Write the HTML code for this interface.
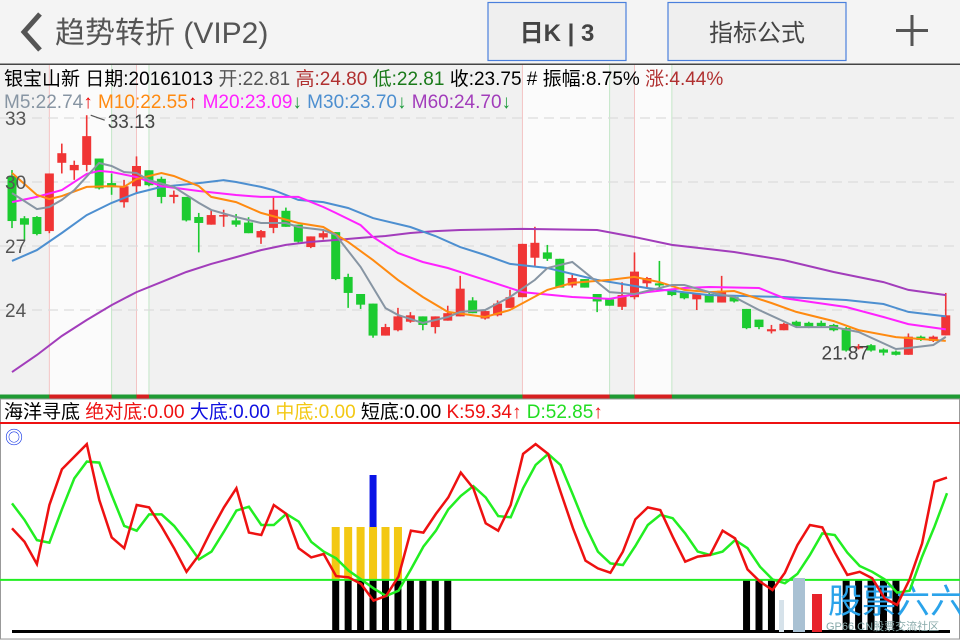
<!DOCTYPE html>
<html><head><meta charset="utf-8">
<style>
html,body{margin:0;padding:0;background:#f4f4f4;}
svg{display:block;font-family:"Liberation Sans","Noto Sans CJK SC",sans-serif;}
</style></head>
<body>
<svg id="c" width="960" height="640" viewBox="0 0 960 640" xmlns="http://www.w3.org/2000/svg">
<rect x="0" y="0" width="960" height="640" fill="#f4f4f4"/>
<g>
<polyline points="40,14 24,32 40,50" fill="none" stroke="#555" stroke-width="5"/>
<text x="55" y="43" font-size="30" fill="#555">趋势转折 (VIP2)</text>
<rect x="488" y="2.5" width="138" height="58" fill="#efefef" stroke="#4a7fdc" stroke-width="1.2"/>
<text x="557" y="41" font-size="24" fill="#444" font-weight="bold" text-anchor="middle">日K | 3</text>
<rect x="668" y="2.5" width="178" height="58" fill="#efefef" stroke="#4a7fdc" stroke-width="1.2"/>
<text x="757" y="41" font-size="24" fill="#444" text-anchor="middle">指标公式</text>
<g><rect x="896" y="29" width="32" height="3" fill="#555"/><rect x="910.5" y="15" width="3" height="31" fill="#555"/></g>
<rect x="0" y="63.5" width="960" height="1.5" fill="#444"/>
</g>
<g id="main"></g>
<g id="sub"></g>
</svg>
<script>
// ===== price panel data =====
const candleOpen =[30.28,28.3,28.36,27.7,30.9,30.55,30.8,31.1,29.95,29.05,29.8,30.55,30.15,29.3,29.3,28.36,28.0,28.4,28.2,28.1,27.4,27.85,28.65,28.0,26.95,27.4,27.65,25.55,24.75,24.3,22.8,23.05,23.45,23.7,23.2,23.5,23.7,24.45,23.6,23.75,24.1,24.6,26.45,26.7,26.4,25.15,25.45,24.75,24.5,24.15,24.6,25.25,25.25,24.95,24.8,24.5,24.75,24.35,24.6,24.05,23.55,23.0,23.05,23.45,23.4,23.4,23.3,23.15,22.2,22.35,22.15,22.05,21.9,22.75,22.55,22.81];
const candleHigh =[30.56,28.4,28.4,30.4,31.8,31.0,33.13,31.1,30.4,30.1,31.2,30.55,30.25,29.6,29.3,28.55,28.7,28.7,28.5,28.35,27.75,29.3,28.8,28.0,27.45,27.75,27.65,25.7,24.75,24.3,23.35,24.1,23.9,23.7,23.7,24.2,25.6,24.6,24.0,24.45,24.95,27.1,27.9,27.05,26.4,25.65,25.45,24.75,24.5,25.3,26.7,25.55,26.3,25.0,24.85,24.75,24.8,25.6,24.65,24.05,23.55,23.3,23.4,23.5,23.45,23.5,23.35,23.2,22.4,22.4,22.2,22.1,22.9,22.8,22.8,24.80];
const candleLow  =[27.84,27.3,27.5,27.6,30.4,30.1,30.5,29.65,29.4,28.8,29.5,29.8,29.0,29.0,28.15,26.7,28.0,27.9,27.9,27.6,27.1,27.6,27.9,27.15,26.9,27.3,25.4,24.1,24.05,22.7,22.8,23.0,23.4,23.05,22.9,23.5,23.7,23.85,23.55,23.7,24.1,24.6,26.0,26.3,25.05,25.05,25.05,23.9,24.2,24.0,24.5,25.05,25.05,24.65,24.5,24.0,24.35,24.35,24.35,23.1,23.1,22.9,23.05,23.2,23.15,23.2,23.0,22.05,22.15,22.05,21.87,21.87,21.9,22.55,22.5,22.81];
const candleClose=[28.17,28.0,27.56,30.4,31.35,30.8,32.15,29.7,29.75,29.8,30.75,29.85,29.3,29.4,28.2,28.08,28.45,28.45,28.0,27.6,27.7,28.7,27.9,27.2,27.45,27.6,25.45,24.8,24.25,22.8,23.2,23.7,23.75,23.3,23.7,23.85,25.0,23.85,23.95,24.3,24.6,27.1,27.15,26.4,25.05,25.5,25.05,24.4,24.2,24.7,25.8,25.5,25.15,24.7,24.55,24.75,24.35,24.9,24.4,23.15,23.2,23.1,23.35,23.25,23.2,23.25,23.05,22.1,22.3,22.1,22.0,21.9,22.75,22.6,22.75,23.75];
// moving averages: [candle index, value]
const ma5  =[[0,29.48],[2,28.73],[3,28.83],[4,29.16],[5,29.62],[7,30.89],[8,30.75],[9,30.47],[10,30.42],[11,30.09],[13,29.77],[15,29.02],[16,28.69],[18,28.36],[20,28.08],[22,28.08],[23,27.89],[25,27.75],[26,27.52],[28,26.02],[30,24.09],[31,23.77],[33,23.39],[35,23.67],[36,23.91],[38,24.0],[40,24.61],[42,25.41],[43,25.97],[45,26.25],[48,24.84],[50,24.75],[53,25.17],[54,25.17],[56,24.84],[58,24.61],[60,24.0],[63,23.2],[66,23.2],[68,22.97],[71,22.17],[72,22.22],[74,22.36],[75,22.74]];
const ma10 =[[0,30.42],[2,29.39],[3,29.2],[4,29.34],[6,29.77],[8,29.81],[9,29.77],[10,30.14],[12,30.42],[13,30.28],[15,29.81],[16,29.3],[18,29.06],[20,28.55],[23,28.08],[25,27.89],[27,27.19],[29,26.34],[31,25.41],[33,24.61],[35,23.91],[38,23.67],[40,24.0],[43,24.94],[45,25.27],[48,25.41],[50,25.55],[52,25.31],[54,24.94],[56,24.84],[58,24.89],[61,24.33],[63,23.91],[66,23.48],[68,23.06],[71,22.73],[75,22.55]];
const ma20 =[[0,29.06],[2,29.3],[4,29.62],[6,30.38],[7,30.52],[8,30.47],[10,30.23],[12,29.81],[15,29.58],[18,29.39],[20,29.3],[23,29.3],[25,28.83],[26,28.55],[28,27.98],[29,27.42],[31,26.67],[33,26.25],[35,25.97],[38,25.41],[41,24.84],[45,24.61],[48,24.52],[51,24.84],[54,25.03],[56,25.08],[60,25.03],[62,24.56],[67,24.14],[70,23.67],[72,23.34],[75,23.09]];
const ma30 =[[0,26.3],[2,26.81],[4,27.61],[6,28.45],[8,29.02],[10,29.48],[12,29.77],[15,29.95],[17,30.09],[18,30.0],[20,29.77],[21,29.62],[23,29.16],[25,29.06],[27,28.78],[29,28.31],[32,27.89],[34,27.47],[36,26.95],[38,26.58],[40,26.16],[43,25.97],[47,25.41],[51,25.03],[56,24.7],[62,24.61],[67,24.47],[70,24.28],[72,23.91],[75,23.7]];
const ma60 =[[0,21.09],[2,21.89],[4,22.78],[6,23.53],[8,24.23],[10,24.84],[12,25.31],[14,25.78],[16,26.16],[18,26.48],[20,26.81],[22,27.05],[24,27.19],[26,27.28],[28,27.38],[30,27.47],[32,27.61],[34,27.7],[36,27.75],[41,27.8],[47,27.75],[50,27.42],[53,27.05],[58,26.72],[62,26.34],[66,25.78],[70,25.31],[72,24.94],[75,24.7]];
const priceTicks=[33,30,27,24];
const signalZones=[[3,8],[10,11],[41,48],[50,53]];
// ===== indicator panel data =====
const kValues=[38.2,32.6,23.3,47.9,62.8,68,73.3,50,34.4,29.9,47.9,46.9,38.9,29.9,20.1,27.1,37.5,46.9,54.9,36.4,35.4,47.9,44.2,29.9,26.1,27.5,18.3,17.8,15,8.1,10,18.1,37.2,36.4,44.2,51.1,61.4,54.9,40.3,37.2,47.9,69.2,73.3,69.2,53.5,38.2,24.7,21.5,19.7,28.5,41.9,46.9,45.8,34.7,24.3,26.4,27.1,37.2,34,21.1,16,12.5,19.7,31.2,39.6,38.6,28.1,18.8,20.1,17.4,9,6.3,16.9,31.9,57.6,59.34];
const dValues=[48.6,41.7,33.3,32.2,46.1,59,66,65.6,52.1,39.2,37.2,44,44,39.2,32.6,25.3,28.5,36.8,45.6,47.2,39.6,39.6,44.2,41,32.6,28.5,25.7,20.6,16.9,13.2,10,12.2,21.1,30.6,37.2,46.1,51.7,55.8,51.1,43.3,42.8,54.9,64.6,69.2,64.6,52.1,39.2,28.5,23.6,22.9,30.8,39.6,43.8,42.4,36.1,28.5,27.1,28.5,33.3,29.9,22.2,16.9,15.3,19.2,27.1,36.1,35.4,28.1,22.5,20.1,16.9,11.4,12.2,26.4,38.9,52.85];
const shortBottomIdx=[26,27,28,29,30,31,32,33,34,35,59,60,61,67,68,69,70,71];
const midBottomIdx=[26,27,28,29,30,31];
const bigBottomIdx=[29];
const refLevel=16.7;

const NS='http://www.w3.org/2000/svg';
function mk(tag,attrs,parent){const e=document.createElementNS(NS,tag);for(const k in attrs)e.setAttribute(k,attrs[k]);parent.appendChild(e);return e;}
const main=document.getElementById('main'), sub=document.getElementById('sub');
const X0=12, STEP=12.45;
const xAt=i=>X0+i*STEP;
const yP=p=>118+(33-p)*21.333;
const yK=v=>620-v*2.4;

let bg=mk('rect',{x:0,y:65,width:960,height:330,fill:'#f1f1f1'},main);


signalZones.forEach(z=>{
  const x1=xAt(z[0]), x2=xAt(z[1]);
  const r=mk('rect',{x:x1,y:65,width:x2-x1,height:330,fill:'#fbfbfb'},main);
  
  
  const l1=mk('line',{x1:x1,x2:x1,y1:65,y2:395,stroke:'#f3c4c4','stroke-width':1},main);
  
  
  const l2=mk('line',{x1:x2,x2:x2,y1:65,y2:395,stroke:'#c4e6c8','stroke-width':1},main);
  
  
});
priceTicks.forEach(t=>{
  const g=mk('line',{x1:0,x2:960,y1:yP(t),y2:yP(t),stroke:'#dcdcdc','stroke-width':1.3,'stroke-dasharray':'10,6'},main);
  
  
});
let sb=mk('rect',{x:0,y:394.5,width:960,height:4,fill:'#1f9a33'},main);


signalZones.forEach(z=>{
  const x1=xAt(z[0]), x2=xAt(z[1]);
  const r=mk('rect',{x:x1,y:394.5,width:x2-x1,height:4,fill:'#d62020'},main);
  
  
});
for(let i=0;i<candleOpen.length;i++){
  const o=candleOpen[i],c=candleClose[i],h=candleHigh[i],l=candleLow[i];
  const up=c>=o, col=up?'#f03535':'#1ccb30', x=xAt(i);
  const g=mk('g',{},main);
  
  
  mk('line',{x1:x,x2:x,y1:yP(h),y2:yP(l),stroke:col,'stroke-width':1.6},g);
  const t=yP(Math.max(o,c)), b=yP(Math.min(o,c));
  mk('rect',{x:x-4.5,y:t,width:9,height:Math.max(1.5,b-t),fill:col},g);
}
[[ma60,'#a23dbb','ma60-line'],[ma30,'#4d8fd0','ma30-line'],[ma20,'#ff22ff','ma20-line'],[ma10,'#ff8a10','ma10-line'],[ma5,'#8795a3','ma5-line']].forEach(([d,col,name])=>{
  const p=mk('polyline',{points:d.map(q=>xAt(q[0]).toFixed(1)+','+yP(q[1]).toFixed(1)).join(' '),fill:'none',stroke:col,'stroke-width':2},main);
  
  
});
priceTicks.forEach(t=>{
  const tx=mk('text',{x:5,y:yP(t)+7,'font-size':19,fill:'#555'},main);
  tx.textContent=String(t);
  
  
});
let hi=candleHigh.indexOf(Math.max(...candleHigh));
let ln=mk('line',{x1:xAt(hi)+4,y1:yP(candleHigh[hi]),x2:xAt(hi)+18,y2:yP(candleHigh[hi])+5,stroke:'#555','stroke-width':1.2},main);


let ht=mk('text',{x:xAt(hi)+21,y:yP(candleHigh[hi])+13,'font-size':19,fill:'#444'},main);
ht.textContent=Math.max(...candleHigh).toFixed(2);


let lo=candleLow.indexOf(Math.min(...candleLow));
let lt=mk('text',{x:xAt(lo)-62,y:yP(candleLow[lo])+4,'font-size':19,fill:'#444'},main);
lt.textContent=Math.min(...candleLow).toFixed(2);



// ===== indicator panel =====
let sbg=mk('rect',{x:0.5,y:399,width:959,height:240,fill:'#fff',stroke:'#999','stroke-width':1},sub);


let rl=mk('rect',{x:0,y:422,width:960,height:2,fill:'#ee1111'},sub);


const KSTEP=(947-12)/(kValues.length-1);
const xK=i=>12+i*KSTEP;
let bl=mk('line',{x1:12,x2:950,y1:631.5,y2:631.5,stroke:'#000','stroke-width':3},sub);


shortBottomIdx.forEach(i=>{
  const r=mk('rect',{x:xAt(i)-3.5,y:yK(refLevel),width:7,height:631-yK(refLevel),fill:'#000'},sub);
  
  
});
midBottomIdx.forEach(i=>{
  const r=mk('rect',{x:xAt(i)-4,y:527,width:8,height:yK(refLevel)-527,fill:'#f3c813'},sub);
  
  
});
bigBottomIdx.forEach(i=>{
  const r=mk('rect',{x:xAt(i)-3.5,y:475,width:7,height:52,fill:'#0a14e6'},sub);
  
  
});
let gl=mk('line',{x1:0,x2:960,y1:yK(refLevel),y2:yK(refLevel),stroke:'#22ee22','stroke-width':2},sub);


const wm=mk('g',{},sub);


mk('rect',{x:779,y:600,width:5,height:32,fill:'#d6e2ea'},wm);
mk('rect',{x:793,y:578,width:12,height:54,fill:'#a9c1d3'},wm);
mk('rect',{x:812,y:594,width:10,height:38,fill:'#e8232b'},wm);
let wt=mk('text',{x:828,y:613,'font-size':34,fill:'#2aa3ea'},wm);wt.textContent='股票六六';
let wt2=mk('text',{x:826,y:630,'font-size':11,fill:'#8aa'},wm);wt2.textContent='GP66.CN股票交流社区';
let dl=mk('polyline',{points:dValues.map((v,i)=>xK(i).toFixed(1)+','+yK(v).toFixed(1)).join(' '),fill:'none',stroke:'#22ee22','stroke-width':2.5},sub);


let kl=mk('polyline',{points:kValues.map((v,i)=>xK(i).toFixed(1)+','+yK(v).toFixed(1)).join(' '),fill:'none',stroke:'#ee1111','stroke-width':2.5},sub);


</script>
<svg width="960" height="640" style="position:absolute;left:0;top:0" xmlns="http://www.w3.org/2000/svg" font-family="Liberation Sans, Noto Sans CJK SC, sans-serif">
<text x="4" y="85" font-size="19"><tspan fill="#000">银宝山新 日期:20161013 </tspan><tspan fill="#555">开:22.81 </tspan><tspan fill="#b03030">高:24.80 </tspan><tspan fill="#1a7a1a">低:22.81 </tspan><tspan fill="#000">收:23.75 # 振幅:8.75% </tspan><tspan fill="#b03030">涨:4.44%</tspan></text>
<text x="4" y="108" font-size="19"><tspan fill="#8795a3">M5:22.74</tspan><tspan fill="#e00">↑ </tspan><tspan fill="#ff8a10">M10:22.55</tspan><tspan fill="#e00">↑ </tspan><tspan fill="#ff22ff">M20:23.09</tspan><tspan fill="#1a9a3a">↓ </tspan><tspan fill="#4d8fd0">M30:23.70</tspan><tspan fill="#1a9a3a">↓ </tspan><tspan fill="#a23dbb">M60:24.70</tspan><tspan fill="#1a9a3a">↓</tspan></text>
<text x="4" y="418" font-size="19"><tspan fill="#000">海洋寻底 </tspan><tspan fill="#ee1111">绝对底:0.00 </tspan><tspan fill="#1010e0">大底:0.00 </tspan><tspan fill="#f3c813">中底:0.00 </tspan><tspan fill="#000">短底:0.00 </tspan><tspan fill="#ee1111">K:59.34↑ </tspan><tspan fill="#22dd22">D:52.85</tspan><tspan fill="#ee1111">↑</tspan></text>
<text x="5" y="444" font-size="18" fill="#1a3ae6">◎</text>
</svg>
</body></html>
